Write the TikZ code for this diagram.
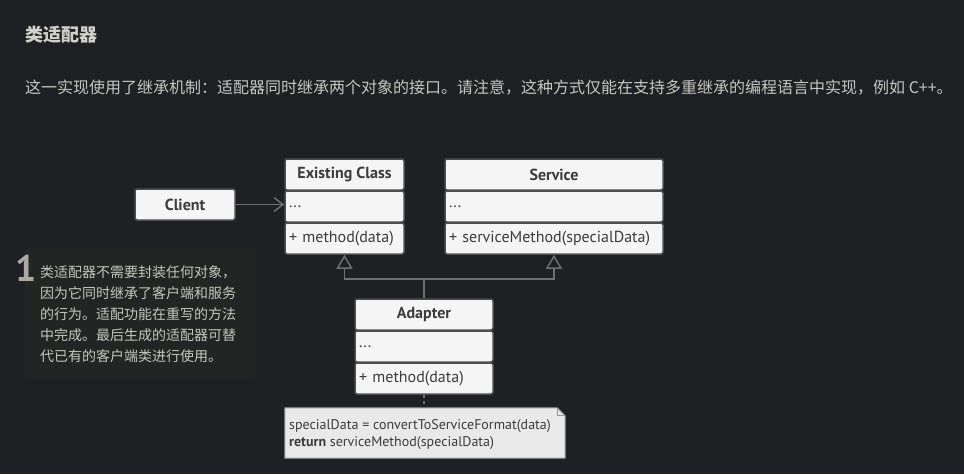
\documentclass[tikz,border=0pt]{standalone}
\usepackage{fontspec}
\setmainfont{PT Sans}
\newfontfamily\cjk{Noto Sans CJK SC}
\usetikzlibrary{arrows.meta,calc}
\definecolor{bg}{HTML}{1F2023}
\definecolor{panel}{HTML}{232524}
\definecolor{headtxt}{HTML}{D2D2CA}
\definecolor{paratxt}{HTML}{C6C6BE}
\definecolor{numtxt}{HTML}{ABA9A1}
\definecolor{boxfill}{HTML}{F5F5F5}
\definecolor{boxline}{HTML}{4E4E4E}
\definecolor{boxtxt}{HTML}{3C3C3C}
\definecolor{conn}{HTML}{6E6E6E}
\definecolor{notefill}{HTML}{E9E9E9}
\definecolor{noteline}{HTML}{9A9A9A}
\begin{document}
\begin{tikzpicture}[x=1pt,y=-1pt,
  comp/.style={draw=boxline,fill=boxfill,rounded corners=2pt,line width=1.5pt,
    minimum height=31pt,inner sep=0pt,text=boxtxt,font=\fontsize{16}{18}\selectfont},
  headc/.style={comp,font=\fontsize{16}{18}\selectfont\bfseries},
  bodyc/.style={comp,align=left,text width=#1-8pt,minimum width=#1},
  inh/.style={draw=conn,line width=1.5pt,-{Triangle[length=14pt,width=16pt,fill=bg]}},
  assoc/.style={draw=conn,line width=1.5pt,-{Straight Barb[length=9pt,width=14pt]}},
]
\useasboundingbox[fill=bg] (0,0) rectangle (964,474);

% texts at top
\node[anchor=base west,inner sep=0pt,text=headtxt,font=\cjk\fontsize{18}{20}\selectfont\bfseries] (title) at (25,41) {类适配器};
\node[anchor=base west,inner sep=0pt,text=paratxt,font=\cjk\fontsize{16}{20}\selectfont] (para) at (25,93) {这一实现使用了继承机制：适配器同时继承两个对象的接口。请注意，这种方式仅能在支持多重继承的编程语言中实现，例如 C++。};

% callout
\fill[panel] (25,248) rectangle (255,378);
\node[anchor=base west,inner sep=0pt,text=numtxt,font=\fontsize{37}{37}\selectfont\bfseries] (num) at (15,281) {1};
\node[anchor=north west,inner sep=0pt,text=paratxt,align=left,font=\cjk\fontsize{14}{21}\selectfont] (callout) at (40,265)
  {类适配器不需要封装任何对象，\\因为它同时继承了客户端和服务\\的行为。适配功能在重写的方法\\中完成。最后生成的适配器可替\\代已有的客户端类进行使用。};

% Client
\node[headc,minimum width=100pt] (client) at (185,204.5) {Client};

% Existing Class
\node[headc,minimum width=119pt] (ecH) at (344.5,174.5) {Existing Class};
\node[bodyc=119pt] (ecF) at (344.5,206.5) {...};
\node[bodyc=119pt] (ecM) at (344.5,238.5) {+ method(data)};

% Service
\node[headc,minimum width=218pt] (svH) at (554,174.5) {Service};
\node[bodyc=218pt] (svF) at (554,206.5) {...};
\node[bodyc=218pt] (svM) at (554,238.5) {+ serviceMethod(specialData)};

% Adapter
\node[headc,minimum width=138pt] (adH) at (424,314.5) {Adapter};
\node[bodyc=138pt] (adF) at (424,346.5) {...};
\node[bodyc=138pt] (adM) at (424,378.5) {+ method(data)};

% note
\node[minimum width=280pt,minimum height=50pt,inner sep=0pt] (note) at (425,433) {};
\filldraw[fill=notefill,draw=noteline,line width=1pt]
  (note.north west) -- ($(note.north east)+(-8,0)$) -- ($(note.north east)+(0,8)$) -- (note.south east) -- (note.south west) -- cycle;
\draw[noteline,line width=1pt] ($(note.north east)+(-8,0)$) -- ($(note.north east)+(-8,8)$) -- ($(note.north east)+(0,8)$);
\node[anchor=north west,inner sep=0pt,align=left,text=boxtxt,font=\fontsize{14}{17}\selectfont] (notetext) at (289,419)
  {specialData = convertToServiceFormat(data)\\\textbf{return} serviceMethod(specialData)};

% connectors
\draw[assoc] (client.east) -- (client.east -| ecF.west);
\coordinate (j) at (424,279);
\draw[inh] (adH.north) -- (j) -| (ecM.south);
\draw[inh] (j) -| (svM.south);
\draw[conn,line width=1.5pt,dash pattern=on 3pt off 3pt] (adM.south) -- (note.north -| adM.south);
\end{tikzpicture}
\end{document}
